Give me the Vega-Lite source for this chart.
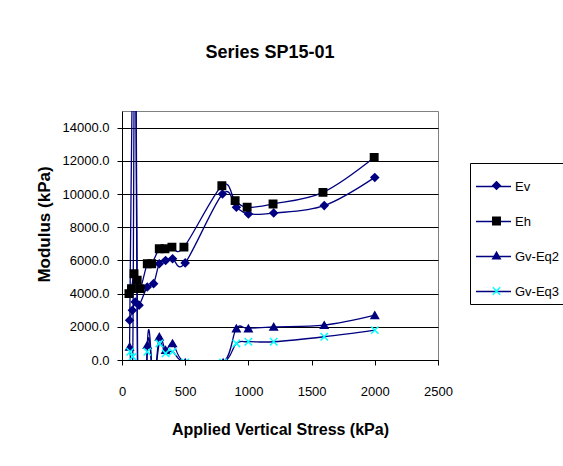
{
  "$schema": "https://vega.github.io/schema/vega-lite/v6.json",
  "autosize": "none",
  "width": 316,
  "height": 249,
  "padding": {"left": 122, "top": 111, "right": 125, "bottom": 106},
  "background": "white",
  "title": {"text": "Series SP15-01", "font": "Liberation Sans", "fontSize": 18, "fontWeight": "bold", "color": "black", "anchor": "middle", "dx": -10, "baseline": "alphabetic", "offset": 35},
  "config": {"view": {"stroke": "#808080", "strokeWidth": 1}, "font": "Liberation Sans"},
  "data": {"values": [
    {"series": "Ev", "stress": 60, "modulus": 2400},
    {"series": "Ev", "stress": 82, "modulus": 3000},
    {"series": "Ev", "stress": 105, "modulus": 3500},
    {"series": "Ev", "stress": 135, "modulus": 3300},
    {"series": "Ev", "stress": 200, "modulus": 4400},
    {"series": "Ev", "stress": 250, "modulus": 4600},
    {"series": "Ev", "stress": 295, "modulus": 5800},
    {"series": "Ev", "stress": 345, "modulus": 6000},
    {"series": "Ev", "stress": 400, "modulus": 6100},
    {"series": "Ev", "stress": 500, "modulus": 5850},
    {"series": "Ev", "stress": 795, "modulus": 10000},
    {"series": "Ev", "stress": 905, "modulus": 9200},
    {"series": "Ev", "stress": 1000, "modulus": 8800},
    {"series": "Ev", "stress": 1200, "modulus": 8850},
    {"series": "Ev", "stress": 1600, "modulus": 9300},
    {"series": "Ev", "stress": 2000, "modulus": 11000},
    {"series": "Eh", "stress": 55, "modulus": 4000},
    {"series": "Eh", "stress": 75, "modulus": 4300},
    {"series": "Eh", "stress": 95, "modulus": 5200},
    {"series": "Eh", "stress": 120, "modulus": 4800},
    {"series": "Eh", "stress": 145, "modulus": 4300},
    {"series": "Eh", "stress": 200, "modulus": 5800},
    {"series": "Eh", "stress": 235, "modulus": 5800},
    {"series": "Eh", "stress": 295, "modulus": 6700},
    {"series": "Eh", "stress": 340, "modulus": 6700},
    {"series": "Eh", "stress": 395, "modulus": 6800},
    {"series": "Eh", "stress": 490, "modulus": 6800},
    {"series": "Eh", "stress": 790, "modulus": 10500},
    {"series": "Eh", "stress": 895, "modulus": 9600},
    {"series": "Eh", "stress": 990, "modulus": 9200},
    {"series": "Eh", "stress": 1195, "modulus": 9400},
    {"series": "Eh", "stress": 1590, "modulus": 10100},
    {"series": "Eh", "stress": 1995, "modulus": 12200},
    {"series": "Gv-Eq2", "stress": 60, "modulus": 800},
    {"series": "Gv-Eq2", "stress": 105, "modulus": 25000},
    {"series": "Gv-Eq2", "stress": 140, "modulus": -20000},
    {"series": "Gv-Eq2", "stress": 200, "modulus": 900},
    {"series": "Gv-Eq2", "stress": 250, "modulus": -1500},
    {"series": "Gv-Eq2", "stress": 295, "modulus": 1400},
    {"series": "Gv-Eq2", "stress": 345, "modulus": 600},
    {"series": "Gv-Eq2", "stress": 400, "modulus": 1000},
    {"series": "Gv-Eq2", "stress": 500, "modulus": -150},
    {"series": "Gv-Eq2", "stress": 800, "modulus": -150},
    {"series": "Gv-Eq2", "stress": 905, "modulus": 1900},
    {"series": "Gv-Eq2", "stress": 1000, "modulus": 1900},
    {"series": "Gv-Eq2", "stress": 1200, "modulus": 2000},
    {"series": "Gv-Eq2", "stress": 1600, "modulus": 2100},
    {"series": "Gv-Eq2", "stress": 2000, "modulus": 2700},
    {"series": "Gv-Eq3", "stress": 65, "modulus": 500},
    {"series": "Gv-Eq3", "stress": 85, "modulus": 200},
    {"series": "Gv-Eq3", "stress": 105, "modulus": 22000},
    {"series": "Gv-Eq3", "stress": 140, "modulus": -18000},
    {"series": "Gv-Eq3", "stress": 200, "modulus": 500},
    {"series": "Gv-Eq3", "stress": 250, "modulus": -1500},
    {"series": "Gv-Eq3", "stress": 295, "modulus": 1000},
    {"series": "Gv-Eq3", "stress": 345, "modulus": 400},
    {"series": "Gv-Eq3", "stress": 400, "modulus": 500},
    {"series": "Gv-Eq3", "stress": 500, "modulus": -150},
    {"series": "Gv-Eq3", "stress": 800, "modulus": -150},
    {"series": "Gv-Eq3", "stress": 905, "modulus": 1000},
    {"series": "Gv-Eq3", "stress": 1000, "modulus": 1100},
    {"series": "Gv-Eq3", "stress": 1200, "modulus": 1100},
    {"series": "Gv-Eq3", "stress": 1600, "modulus": 1400},
    {"series": "Gv-Eq3", "stress": 2000, "modulus": 1800}
  ]},
  "encoding": {
    "x": {"field": "stress", "type": "quantitative", "title": "Applied Vertical Stress (kPa)",
      "scale": {"domain": [0, 2500], "nice": false, "zero": false},
      "axis": {"values": [0, 500, 1000, 1500, 2000, 2500], "format": "d", "grid": false, "domainColor": "black", "domainWidth": 1, "tickColor": "black", "tickSize": 5, "labelColor": "black", "labelFontSize": 13, "labelFont": "Liberation Sans", "labelPadding": 20, "labelFlush": false, "titleFont": "Liberation Sans", "titleFontSize": 16, "titleFontWeight": "bold", "titleColor": "black", "titlePadding": 23}},
    "y": {"field": "modulus", "type": "quantitative", "title": "Modulus (kPa)",
      "scale": {"domain": [0, 15000], "nice": false, "zero": false},
      "axis": {"values": [0, 2000, 4000, 6000, 8000, 10000, 12000, 14000], "format": ".1f", "grid": true, "gridColor": "black", "gridWidth": 1, "gridOpacity": 1, "domainColor": "black", "tickColor": "black", "tickSize": 5, "labelColor": "black", "labelFontSize": 13, "labelFont": "Liberation Sans", "labelPadding": 8, "titleFont": "Liberation Sans", "titleFontSize": 17, "titleFontWeight": "bold", "titleColor": "black", "titleAngle": -90, "titleX": -78, "titleY": 113, "titleAlign": "center", "titleBaseline": "middle"}}
  },
  "layer": [
    {
      "mark": {"type": "line", "interpolate": "cardinal", "clip": true, "strokeWidth": 1.3},
      "encoding": {
        "color": {"field": "series", "type": "nominal",
          "scale": {"domain": ["Ev", "Eh", "Gv-Eq2", "Gv-Eq3"], "range": ["#000080", "#000080", "#000080", "#000080"]},
          "legend": {"orient": "none", "legendX": 348, "legendY": 52, "title": null, "symbolType": "stroke", "symbolSize": 1225, "symbolStrokeWidth": 1.3, "symbolStrokeColor": "#000080", "labelFont": "Liberation Sans", "labelFontSize": 13, "labelColor": "black", "labelOffset": 3, "padding": 5, "rowPadding": 9, "strokeColor": "black"}}
      }
    },
    {
      "mark": {"type": "point", "filled": true, "size": 55, "opacity": 1, "strokeWidth": 1.5, "clip": true},
      "encoding": {
        "shape": {"field": "series", "type": "nominal",
          "scale": {"domain": ["Ev", "Eh", "Gv-Eq2", "Gv-Eq3", " "], "range": ["diamond", "square", "triangle-up", "M-1,-1L1,1M-1,1L1,-1", "circle"]},
          "legend": {"orient": "none", "legendX": 363, "legendY": 63, "title": null, "symbolSize": 55, "labelExpr": "''", "labelFontSize": 13, "padding": 5, "rowPadding": 20.5}},
        "fill": {"field": "series", "type": "nominal",
          "scale": {"domain": ["Ev", "Eh", "Gv-Eq2", "Gv-Eq3", " "], "range": ["#000080", "#000000", "#000080", "#00FFFF", "transparent"]},
          "legend": {"orient": "none", "legendX": 363, "legendY": 63, "title": null, "symbolSize": 55, "labelExpr": "''", "labelFontSize": 13, "padding": 5, "rowPadding": 20.5}},
        "stroke": {"field": "series", "type": "nominal",
          "scale": {"domain": ["Ev", "Eh", "Gv-Eq2", "Gv-Eq3", " "], "range": ["#000080", "#000000", "#000080", "#00FFFF", "transparent"]},
          "legend": {"orient": "none", "legendX": 363, "legendY": 63, "title": null, "symbolSize": 55, "labelExpr": "''", "labelFontSize": 13, "padding": 5, "rowPadding": 20.5}}
      }
    }
  ]
}
